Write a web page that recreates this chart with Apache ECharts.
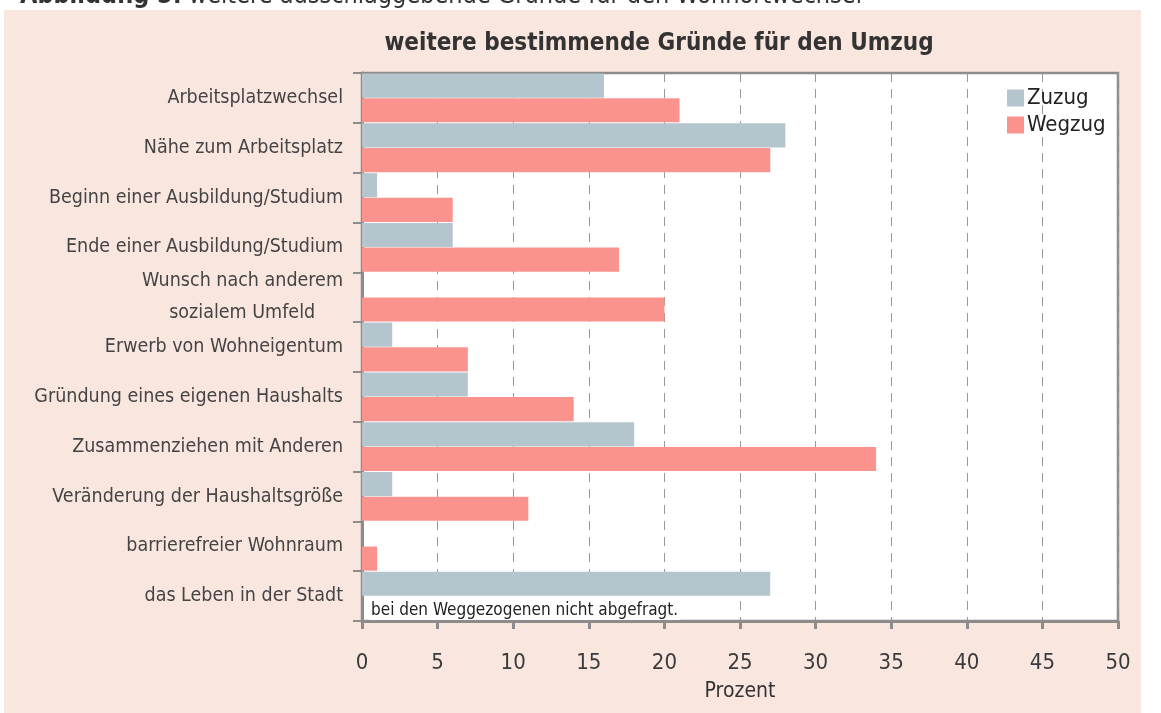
<!DOCTYPE html>
<html><head><meta charset="utf-8">
<script src="https://cdn.jsdelivr.net/npm/echarts@6/dist/echarts.min.js"></script>
<style>html,body{margin:0;padding:0;background:#fff;}#c{width:1161px;height:713px;}</style>
</head><body><div id="c"></div>
<script>
const categories = [
  'Arbeitsplatzwechsel',
  'Nähe zum Arbeitsplatz',
  'Beginn einer Ausbildung/Studium',
  'Ende einer Ausbildung/Studium',
  'Wunsch nach anderem\nsozialem Umfeld     ',
  'Erwerb von Wohneigentum',
  'Gründung eines eigenen Haushalts',
  'Zusammenziehen mit Anderen',
  'Veränderung der Haushaltsgröße',
  'barrierefreier Wohnraum',
  'das Leben in der Stadt'
];
const zuzug  = [16, 28, 1, 6, 0, 2, 7, 18, 2, 0, 27];
const wegzug = [21, 27, 6, 17, 20, 7, 14, 34, 11, 1, null];
const xTicks = [0, 5, 10, 15, 20, 25, 30, 35, 40, 45, 50];
const noteText = 'bei den Weggezogenen nicht abgefragt.';

const FONT = '"Liberation Sans Narrow", "DejaVu Sans Condensed", sans-serif';
const grey = '#8c8c8c';

const wegData = wegzug.map((v, i) => {
  if (v === null) {
    return { value: 0, label: { show: true, position: 'insideLeft', offset: [2, 2],
      formatter: noteText, color: '#222', fontSize: 17, fontFamily: FONT,
      backgroundColor: '#fff', padding: [1, 2] } };
  }
  return v;
});

const chart = echarts.init(document.getElementById('c'), null, { renderer: 'canvas' });
chart.setOption({
  backgroundColor: '#fff',
  animation: false,
  graphic: [
    { type: 'rect', z: -10, shape: { x: 4, y: 10, width: 1137, height: 703 }, style: { fill: '#f9e7df' } },
    { type: 'text', left: 20, top: -16, style: {
      text: '{b|Abbildung 5:} weitere ausschlaggebende Gründe für den Wohnortwechsel',
      fontFamily: FONT, fontSize: 25, fill: '#333',
      rich: { b: { fontWeight: 'bold', fontFamily: FONT, fontSize: 25, fill: '#333' } } } }
  ],
  title: {
    text: 'weitere bestimmende Gründe für den Umzug',
    left: 654, top: 27, textAlign: 'center',
    textStyle: { fontFamily: '"DejaVu Sans Condensed", sans-serif', fontSize: 24, fontWeight: 'bold', color: '#333' }
  },
  legend: {
    orient: 'vertical', left: 1002, top: 82, itemGap: 5,
    icon: 'rect', itemWidth: 17, itemHeight: 17,
    textStyle: { fontFamily: FONT, fontSize: 22, color: '#222', padding: [0, 0, 0, -2] },
    data: ['Zuzug', 'Wegzug']
  },
  grid: { left: 362, right: 43, top: 73, bottom: 92, show: true, backgroundColor: '#fff',
    borderColor: grey, borderWidth: 2.5 },
  xAxis: {
    type: 'value', min: 0, max: 50, interval: 5,
    name: 'Prozent', nameLocation: 'middle', nameGap: 60,
    nameTextStyle: { fontFamily: FONT, fontSize: 21, color: '#333' },
    axisLine: { show: true, lineStyle: { color: grey, width: 3 } },
    axisTick: { show: true, length: 8, lineStyle: { color: grey, width: 3 } },
    axisLabel: { fontFamily: FONT, fontSize: 22, color: '#3a3a3a', margin: 31,
      formatter: v => xTicks.includes(v) ? String(v) : '' },
    splitLine: { show: true, lineStyle: { color: '#999', type: [9, 7], width: 1 } }
  },
  yAxis: {
    type: 'category', data: categories, inverse: true,
    axisLine: { show: true, lineStyle: { color: grey, width: 3 } },
    axisTick: { show: true, length: 9, lineStyle: { color: grey, width: 2 } },
    axisLabel: { fontFamily: FONT, fontSize: 19.5, color: '#444', margin: 19, lineHeight: 32 }
  },
  series: [
    { name: 'Zuzug', type: 'bar', data: zuzug, barGap: '2%', barCategoryGap: '2%',
      itemStyle: { color: '#b5c5cd' } },
    { name: 'Wegzug', type: 'bar', data: wegData, barGap: '2%', barCategoryGap: '2%',
      itemStyle: { color: '#fa938e' } }
  ]
});
</script></body></html>
